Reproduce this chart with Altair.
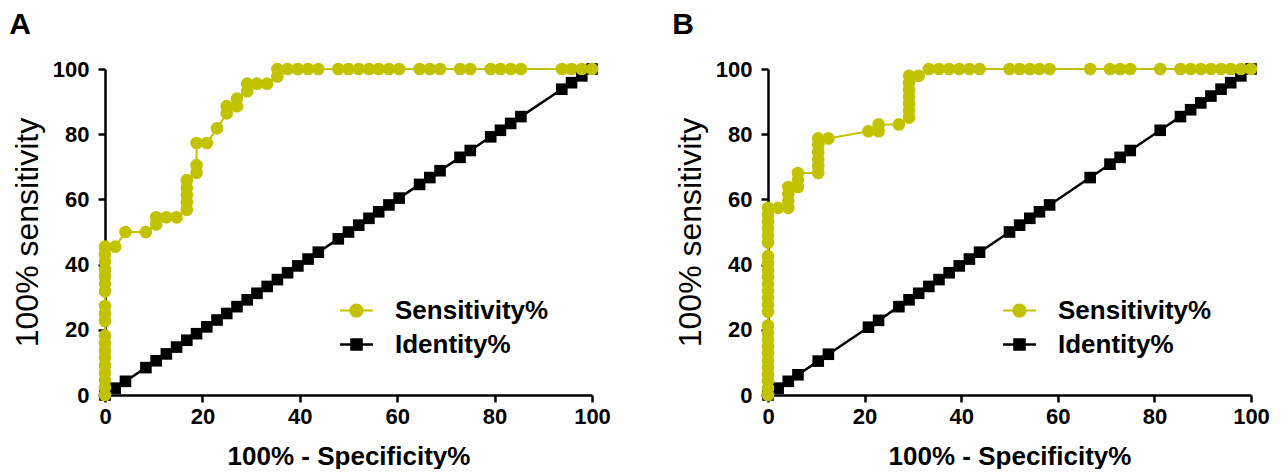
import altair as alt
import pandas as pd

YELLOW = "#C2C200"
FONT = "Liberation Sans"

# ---------------- Panel A ----------------
a_fpr = [0, 0, 0, 0, 0, 0, 0, 0, 0, 0, 0, 0, 0, 0, 0, 0, 0, 0, 0,
         2.1, 4.2, 8.4, 10.5, 10.5, 12.6, 14.7,
         16.8, 16.8, 16.8, 16.8, 16.8, 18.8, 18.8, 18.8, 20.9, 23.0,
         25.0, 25.0, 27.1, 27.1, 29.2, 29.2, 31.2, 33.3, 35.4, 35.4,
         37.5, 39.6, 41.7, 43.8, 47.9, 50.0, 52.1, 54.2, 56.2, 58.3, 60.4,
         64.6, 66.7, 68.8, 72.9, 75.0, 79.2, 81.2, 83.3, 85.4,
         93.8, 95.8, 97.9, 100]
a_tpr = [0, 2.3, 4.5, 6.8, 9.1, 11.4, 13.6, 15.9, 18.2, 22.7, 25.0, 27.3,
         31.8, 34.1, 36.4, 38.6, 40.9, 43.2, 45.5,
         45.5, 50.0, 50.0, 52.3, 54.5, 54.5, 54.5,
         56.8, 59.1, 61.4, 63.6, 65.9, 68.2, 70.5, 77.3, 77.3, 81.8,
         86.4, 88.6, 88.6, 90.9, 93.2, 95.5, 95.5, 95.5, 97.7, 100,
         100, 100, 100, 100, 100, 100, 100, 100, 100, 100, 100,
         100, 100, 100, 100, 100, 100, 100, 100, 100,
         100, 100, 100, 100]
a_identity = [0, 2.1, 4.2, 8.4, 10.5, 12.6, 14.7, 16.8, 18.8, 20.9, 23.0,
              25.0, 27.1, 29.2, 31.2, 33.3, 35.4, 37.5, 39.6, 41.7, 43.8,
              47.9, 50.0, 52.1, 54.2, 56.2, 58.3, 60.4, 64.6, 66.7, 68.8,
              72.9, 75.0, 79.2, 81.2, 83.3, 85.4, 93.8, 95.8, 97.9, 100]

# ---------------- Panel B ----------------
b_fpr = [0, 0, 0, 0, 0, 0, 0, 0, 0, 0, 0, 0, 0, 0, 0, 0, 0, 0, 0, 0, 0, 0, 0, 0, 0, 0,
         2.1, 4.2, 4.2, 4.2, 4.2, 6.2, 6.2, 6.2,
         10.4, 10.4, 10.4, 10.4, 10.4, 10.4, 12.5, 20.8, 22.9, 22.9, 27.1,
         29.2, 29.2, 29.2, 29.2, 29.2, 29.2, 29.2, 31.2,
         33.3, 35.4, 37.5, 39.6, 41.7, 43.8, 50.0, 52.1, 54.2, 56.2, 58.3,
         66.7, 70.8, 72.9, 75.0, 81.2, 85.4, 87.5, 89.6, 91.7, 93.8, 95.8, 97.9, 100]
b_tpr = [0, 2.1, 4.3, 6.4, 8.5, 10.6, 12.8, 14.9, 17.0, 19.1, 21.3, 25.5, 27.7,
         29.8, 31.9, 34.0, 36.2, 38.3, 40.4, 42.6, 46.8, 48.9, 51.1, 53.2, 55.3, 57.4,
         57.4, 57.4, 59.6, 61.7, 63.8, 63.8, 66.0, 68.1,
         68.1, 70.2, 72.3, 74.5, 76.6, 78.7, 78.7, 80.9, 80.9, 83.0, 83.0,
         85.1, 87.2, 89.4, 91.5, 93.6, 95.7, 97.9, 97.9,
         100, 100, 100, 100, 100, 100, 100, 100, 100, 100, 100,
         100, 100, 100, 100, 100, 100, 100, 100, 100, 100, 100, 100, 100]
b_identity = [0, 2.1, 4.2, 6.2, 10.4, 12.5, 20.8, 22.9, 27.1, 29.2, 31.2,
              33.3, 35.4, 37.5, 39.6, 41.7, 43.8, 50.0, 52.1, 54.2, 56.2, 58.3,
              66.7, 70.8, 72.9, 75.0, 81.2, 85.4, 87.5, 89.6, 91.7, 93.8,
              95.8, 97.9, 100]

series_names = ["Sensitivity%", "Identity%"]
tick_values = [0, 20, 40, 60, 80, 100]

# legend symbols: a short line with a marker in the middle (unit box -1..1)
CIRCLE_SYMBOL = ("M-1,-0.065 L1,-0.065 L1,0.065 L-1,0.065 Z "
                 "M-0.43,0 A0.43,0.43 0 1,1 0.43,0 A0.43,0.43 0 1,1 -0.43,0 Z")
SQUARE_SYMBOL = ("M-1,-0.08 L1,-0.08 L1,0.08 L-1,0.08 Z "
                 "M-0.38,-0.38 L0.38,-0.38 L0.38,0.38 L-0.38,0.38 Z")


def panel(fpr, tpr, ident, letter, width):
    sens = pd.DataFrame({"x": fpr, "y": tpr, "series": series_names[0],
                         "order": list(range(len(fpr)))})
    iden = pd.DataFrame({"x": ident, "y": ident, "series": series_names[1],
                         "order": list(range(len(ident)))})
    both = pd.concat([sens, iden], ignore_index=True)

    xenc = alt.X("x:Q", scale=alt.Scale(domain=[0, 100], nice=False, zero=False),
                 axis=alt.Axis(values=tick_values, title="100% - Specificity%"))
    yenc = alt.Y("y:Q", scale=alt.Scale(domain=[0, 100], nice=False, zero=False),
                 axis=alt.Axis(values=tick_values, title="100% sensitivity"))

    id_line = alt.Chart(iden).mark_line(color="black", strokeWidth=2.5).encode(
        x=xenc, y=yenc, order=alt.Order("order:Q"))
    id_pts = alt.Chart(iden).mark_point(shape="square", filled=True, size=135,
                                        color="black", opacity=1).encode(x=xenc, y=yenc)
    s_line = alt.Chart(sens).mark_line(color=YELLOW, strokeWidth=2).encode(
        x=xenc, y=yenc, order=alt.Order("order:Q"))
    s_pts = alt.Chart(sens).mark_point(shape="circle", filled=True, size=160,
                                       color=YELLOW, opacity=1).encode(x=xenc, y=yenc)

    leg = alt.Legend(title=None, orient="none", legendX=235, legendY=225,
                     symbolSize=1089, symbolOpacity=1, symbolStrokeWidth=0,
                     labelOffset=22, labelFontSize=26, labelFont=FONT,
                     labelFontWeight="bold", labelColor="black",
                     rowPadding=4, padding=0)
    legend_layer = alt.Chart(both).mark_point(filled=True, opacity=0, size=10).encode(
        x=xenc, y=yenc,
        color=alt.Color("series:N", scale=alt.Scale(domain=series_names,
                                                    range=[YELLOW, "black"]), legend=leg),
        shape=alt.Shape("series:N", scale=alt.Scale(domain=series_names,
                                                    range=[CIRCLE_SYMBOL, SQUARE_SYMBOL]),
                        legend=leg),
    )

    return alt.layer(id_line, id_pts, s_line, s_pts, legend_layer).properties(
        width=width, height=326,
        title=alt.TitleParams(letter, anchor="start", frame="bounds", fontSize=30,
                              font=FONT, fontWeight="bold", color="black", dx=-2,
                              offset=18),
    )


chart = alt.hconcat(
    panel(a_fpr, a_tpr, a_identity, "A", 487),
    panel(b_fpr, b_tpr, b_identity, "B", 483),
    spacing=61,
).resolve_scale(
    color="independent", shape="independent"
).resolve_legend(
    color="independent", shape="independent"
).properties(
    padding={"left": 9, "top": 10, "right": 10, "bottom": 0}
).configure_view(
    strokeWidth=0
).configure_axis(
    grid=False,
    domainColor="black", domainWidth=2.5,
    tickColor="black", tickWidth=2.5, tickSize=7,
    labelFont=FONT, labelFontSize=22, labelFontWeight="bold", labelColor="black",
    labelPadding=9, labelFlush=False, titleColor="black", titleFont=FONT,
).configure_axisX(
    titleFontSize=26, titleFontWeight="bold", titlePadding=16, labelPadding=4,
).configure_axisY(
    titleFontSize=32, titleFontWeight="normal", titlePadding=8,
)

chart.save("out.html", embed_options={"renderer": "svg", "actions": False})
